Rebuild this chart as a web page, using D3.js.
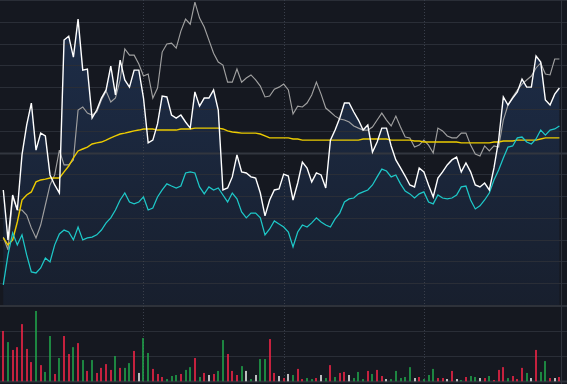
<!DOCTYPE html>
<html><head><meta charset="utf-8">
<script src="https://cdn.jsdelivr.net/npm/d3@7"></script>
<style>html,body{margin:0;padding:0;background:#151820;overflow:hidden}</style>
</head><body><svg id="c" width="567" height="384"></svg>
<script>
// percent change vs previous close, one value per 2-minute slot
const price = [-1.72,-4.01,-1.95,-2.64,-0.11,1.26,2.27,0.11,0.89,0.76,
-1.03,-1.49,-1.86,5.16,5.34,4.38,6.12,3.78,3.83,1.58,
1.95,2.50,2.87,3.97,2.64,4.24,3.33,3.00,3.78,3.78,
2.50,0.44,0.57,1.31,2.59,2.55,1.72,1.58,1.72,1.40,
1.12,2.78,2.13,2.50,2.50,2.87,1.95,-1.72,-1.63,-1.12,
-0.11,-0.89,-0.94,-1.12,-1.17,-1.86,-2.91,-2.18,-1.72,-1.67,
-0.99,-1.08,-2.18,-1.40,-0.44,-0.71,-1.35,-0.94,-1.03,-1.63,
0.57,1.03,1.58,2.27,2.27,1.86,1.49,1.03,1.26,0.02,
0.48,1.12,1.12,0.30,-0.34,-0.71,-1.08,-1.49,-1.58,-0.71,
-0.89,-1.49,-2.04,-1.17,-0.89,-0.57,-0.34,-0.21,-0.89,-0.48,
-0.89,-1.49,-1.58,-1.40,-1.72,-0.71,0.57,2.55,2.18,2.50,
2.78,3.37,3.00,3.00,4.43,4.15,2.41,2.18,2.68,2.96];

const compareA = [-3.88,-4.47,-2.04,-2.64,-2.64,-2.87,-3.46,-3.92,-3.33,-2.41,
-1.49,-1.03,0.11,-0.57,-0.57,-0.34,1.95,2.09,1.81,1.72,
1.86,2.41,2.82,2.32,2.50,3.33,4.75,4.47,4.47,4.06,
3.51,3.60,2.50,2.96,4.61,4.98,5.02,4.79,5.57,6.12,
5.89,6.90,6.17,5.76,5.16,4.56,4.15,4.01,3.23,3.23,
3.83,3.23,3.42,3.56,3.33,3.05,2.55,2.59,2.91,3.00,
3.14,2.87,1.77,2.13,2.09,2.27,2.64,3.23,2.68,2.04,
1.86,1.67,1.54,1.49,1.40,1.22,1.12,1.03,1.03,1.17,
1.49,1.81,1.49,1.22,1.67,1.17,0.71,0.67,0.25,0.34,
0.57,0.34,-0.02,1.12,0.99,0.76,0.67,0.67,0.89,0.89,
0.34,-0.07,-0.16,0.30,0.07,0.30,0.25,1.49,2.18,2.55,
2.87,3.14,3.33,3.51,3.88,4.11,3.60,3.56,4.29,4.29];

const avgPrice = [-3.92,-4.24,-4.01,-3.19,-2.18,-1.95,-1.81,-1.35,-1.26,-1.22,
-1.17,-1.17,-1.17,-0.89,-0.62,-0.25,0.07,0.16,0.25,0.39,
0.44,0.48,0.57,0.67,0.76,0.85,0.89,0.94,0.99,1.03,
1.08,1.08,1.08,1.03,1.03,1.03,1.03,1.03,1.08,1.08,
1.08,1.12,1.12,1.12,1.12,1.12,1.12,1.08,0.99,0.94,
0.92,0.89,0.89,0.89,0.89,0.85,0.76,0.67,0.67,0.67,
0.67,0.67,0.62,0.62,0.57,0.57,0.57,0.57,0.57,0.57,
0.57,0.57,0.57,0.57,0.57,0.57,0.57,0.62,0.62,0.62,
0.62,0.62,0.62,0.57,0.57,0.57,0.57,0.57,0.53,0.53,
0.48,0.48,0.48,0.48,0.48,0.48,0.48,0.48,0.44,0.44,
0.44,0.44,0.44,0.44,0.44,0.48,0.48,0.53,0.53,0.53,
0.57,0.57,0.57,0.57,0.57,0.62,0.67,0.67,0.67,0.67];

const compareB = [-6.08,-4.70,-3.69,-4.24,-3.78,-4.70,-5.48,-5.53,-5.30,-4.84,
-5.02,-4.24,-3.74,-3.56,-3.65,-4.01,-3.42,-4.01,-3.92,-3.88,
-3.78,-3.56,-3.23,-3.00,-2.64,-2.18,-1.86,-2.27,-2.36,-2.27,
-2.04,-2.64,-2.55,-2.04,-1.72,-1.44,-1.54,-1.63,-1.54,-0.94,
-0.89,-0.94,-1.58,-1.90,-1.58,-1.72,-1.63,-1.95,-2.27,-1.86,
-2.13,-2.73,-3.00,-2.78,-2.78,-3.00,-3.78,-3.51,-3.14,-3.28,
-3.42,-3.65,-4.33,-3.65,-3.33,-3.42,-3.23,-3.00,-3.19,-3.33,
-3.42,-3.05,-2.78,-2.27,-2.13,-2.09,-1.90,-1.81,-1.72,-1.49,
-1.12,-0.76,-0.85,-1.12,-1.03,-1.44,-1.77,-1.90,-2.09,-1.90,
-1.81,-2.27,-2.36,-1.95,-2.09,-2.13,-2.09,-1.95,-1.58,-1.54,
-2.18,-2.59,-2.45,-2.18,-1.86,-1.26,-0.80,-0.25,0.25,0.30,
0.67,0.71,0.48,0.39,0.62,1.03,0.80,1.03,1.08,1.22];

const volume = [1990,1550,1240,1350,2260,1280,760,2780,640,370,
1790,290,920,1790,1080,1350,1510,840,410,840,
330,530,680,450,1000,530,530,720,1200,330,
1710,1120,490,290,170,90,210,250,290,450,
560,920,170,330,250,290,410,1630,1080,410,
250,600,410,90,250,880,880,1670,330,210,
130,290,250,490,90,130,90,130,250,130,
640,170,330,370,250,130,370,90,410,290,
450,210,90,90,410,130,170,560,130,170,
90,250,490,130,130,90,410,90,50,170,
210,170,130,130,210,50,450,560,130,210,
90,530,330,130,1240,370,800,130,130,170];

// 1 = up (red), -1 = down (green), 0 = flat (white)
const volDir = [1,-1,1,1,1,1,1,-1,1,-1,
-1,1,-1,1,1,-1,1,-1,1,-1,
1,1,1,1,-1,1,-1,-1,1,0,
-1,-1,1,1,1,-1,-1,-1,1,-1,
-1,1,-1,1,0,1,-1,-1,1,1,
1,-1,0,-1,0,-1,-1,1,1,0,
1,0,-1,1,1,-1,-1,1,0,-1,
1,-1,1,1,0,-1,-1,-1,1,-1,
1,1,0,-1,-1,-1,-1,-1,0,1,
-1,-1,-1,1,1,0,1,0,-1,1,
-1,-1,0,1,-1,1,1,1,-1,1,
1,1,-1,0,1,-1,-1,1,0,1];

const pctTicks = [-6,-5,-4,-3,-2,-1,0,1,2,3,4,5,6,7];
const volTicks = [1000, 2000];
const sessionMarks = [30, 60, 90];

const svg = d3.select('#c');
const W = 567, H = 384, RIGHT = 561;
const x = d3.scaleLinear().domain([0, price.length - 1]).range([3.3, 559.4]);
const y = d3.scaleLinear().domain([-7, 7]).range([305, 0]);
const yv = d3.scaleLinear().domain([0, 3000]).range([381.3, 305.4]);
const px = v => Math.round(v) + 0.5;

svg.append('rect').attr('width', W).attr('height', H).attr('fill', '#151820');

const defs = svg.append('defs');
const g = defs.append('linearGradient').attr('id', 'pg')
  .attr('gradientUnits', 'userSpaceOnUse').attr('x1', 0).attr('x2', 0).attr('y1', 0).attr('y2', 305);
g.append('stop').attr('offset', 0).attr('stop-color', 'rgb(38,68,116)').attr('stop-opacity', 0.5);
g.append('stop').attr('offset', 1).attr('stop-color', 'rgb(38,68,116)').attr('stop-opacity', 0.16);

const area = d3.area().x((d, i) => x(i)).y0(y(-7)).y1(d => y(d));
svg.append('path').datum(price).attr('d', area).attr('fill', 'url(#pg)');

const grid = svg.append('g');
grid.selectAll('line.h').data(pctTicks).join('line')
  .attr('x1', 0).attr('x2', W)
  .attr('y1', d => d === 7 ? 0.5 : px(y(d))).attr('y2', d => d === 7 ? 0.5 : px(y(d)))
  .attr('stroke', d => d === 0 ? '#32363f' : '#2a2e37')
  .attr('stroke-width', d => d === 0 ? 2 : 1);
grid.append('line').attr('x1', 0).attr('x2', W).attr('y1', y(-7) + 1).attr('y2', y(-7) + 1)
  .attr('stroke', '#2e323a').attr('stroke-width', 2);
grid.selectAll('line.v').data(volTicks).join('line')
  .attr('x1', 0).attr('x2', W)
  .attr('y1', d => px(yv(d))).attr('y2', d => px(yv(d)))
  .attr('stroke', '#2a2e37');
grid.append('line').attr('x1', 0).attr('x2', W).attr('y1', px(yv(0))).attr('y2', px(yv(0)))
  .attr('stroke', '#2e323a').attr('stroke-width', 2);
grid.selectAll('line.s').data(sessionMarks).join('line')
  .attr('x1', d => px(x(d))).attr('x2', d => px(x(d)))
  .attr('y1', 0).attr('y2', H)
  .attr('stroke', '#3a3f4b').attr('stroke-dasharray', '1,2');
grid.append('line').attr('x1', RIGHT + 0.5).attr('x2', RIGHT + 0.5).attr('y1', 0).attr('y2', H)
  .attr('stroke', '#30343d');

const line = d3.line().x((d, i) => x(i)).y(d => y(d));
svg.append('path').datum(compareA).attr('d', line).attr('fill', 'none')
  .attr('stroke', '#a0a0a0').attr('stroke-width', 1.15);
svg.append('path').datum(avgPrice).attr('d', line).attr('fill', 'none')
  .attr('stroke', '#eccb00').attr('stroke-width', 1.4);
svg.append('path').datum(compareB).attr('d', line).attr('fill', 'none')
  .attr('stroke', '#1ec8c8').attr('stroke-width', 1.25);
svg.append('path').datum(price).attr('d', line).attr('fill', 'none')
  .attr('stroke', '#ffffff').attr('stroke-width', 1.4);

const volColor = d => d > 0 ? '#ff2548' : d < 0 ? '#20aa4c' : '#f4f4f4';
svg.append('g').selectAll('rect').data(volume).join('rect')
  .attr('x', (d, i) => Math.round(x(i)) - 0.75)
  .attr('width', 1.5)
  .attr('y', d => yv(d))
  .attr('height', d => yv(0) - yv(d))
  .attr('fill', (d, i) => volColor(volDir[i]));
</script></body></html>
